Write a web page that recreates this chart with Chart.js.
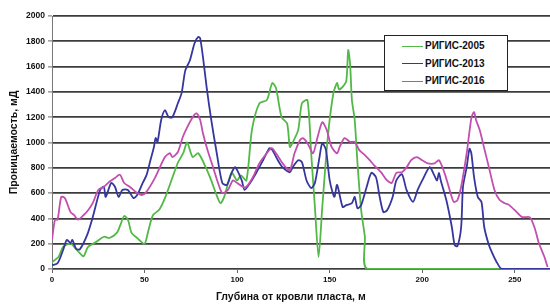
<!DOCTYPE html>
<html>
<head>
<meta charset="utf-8">
<script src="https://cdn.jsdelivr.net/npm/chart.js"></script>
<style>
  html, body { margin: 0; padding: 0; background: #fff; }
  #wrap { position: relative; width: 550px; height: 304px; }
  #legend {
    position: absolute; left: 384px; top: 35px; width: 122px; height: 54px;
    border: 1.5px solid #222; background: #fff;
    font: bold 10px "Liberation Sans", Arial, sans-serif; color: #111;
  }
  #legend .row { position: absolute; left: 17px; height: 12px; line-height: 12px; white-space: nowrap; }
  #legend .sw { display: inline-block; width: 21px; height: 0; border-top: 1.5px solid; vertical-align: middle; margin-right: 2px; }
</style>
</head>
<body>
<div id="wrap">
  <canvas id="chart" width="550" height="304"></canvas>
  <div id="legend"></div>
</div>
<script>
// Проницаемость по глубине, три интерпретации РИГИС
const seriesNames = ['РИГИС-2005', 'РИГИС-2013', 'РИГИС-2016'];
const seriesColors = ['#52b947', '#36369e', '#c24fb0'];

const depth2005 = [0, 3.5, 6, 10, 12, 15, 17, 19.5, 24, 28, 31, 35, 37, 39, 41, 43, 46, 50, 52, 54.5, 58, 61, 64, 68, 71, 73, 76, 79, 83, 86, 89, 91, 93, 97, 100, 102, 105, 108, 112, 116, 119, 121, 124, 127, 128.5, 130, 133, 135, 138, 140, 142, 144, 146, 149, 152, 154, 155, 157, 159, 160, 161, 162, 163.5, 165, 167, 169, 170.5, 269];
const perm2005 = [55, 95, 175, 200, 175, 125, 100, 175, 215, 255, 245, 285, 350, 420, 390, 285, 245, 200, 300, 425, 470, 560, 680, 840, 920, 1000, 885, 915, 805, 700, 580, 520, 570, 760, 700, 740, 700, 1100, 1310, 1335, 1470, 1430, 1200, 1150, 965, 1000, 1100, 1310, 1335, 915, 490, 95, 490, 1045, 1390, 1470, 1420, 1440, 1490, 1730, 1625, 1335, 1180, 840, 465, 255, 0, 0];

const depth2013 = [0, 3, 6, 8, 10, 11, 13, 15, 19, 22, 26, 28, 29, 32, 34, 36, 38, 41, 44, 46, 49, 51, 53, 55, 56, 57, 59, 61, 63, 65, 68, 70, 72, 74.5, 77, 79, 80, 81.5, 83.5, 86, 89, 92, 94.5, 97, 99, 102.5, 104, 107, 110.5, 114, 117.5, 119, 122, 124.5, 128.5, 130, 133, 135, 137.5, 140, 142, 144.5, 146, 148, 150, 152.5, 154, 157, 159, 162, 163.5, 165, 167, 170, 172.5, 175, 177, 179, 181, 184, 186, 189, 191.5, 195, 197.5, 200, 204, 206.5, 208, 209, 210, 213, 216, 217.5, 219, 221, 222, 224, 225.5, 226.5, 228, 230, 232, 233.5, 236, 238, 240, 243, 269];
const perm2013 = [30, 45, 150, 230, 205, 230, 160, 155, 270, 410, 625, 650, 570, 680, 650, 570, 625, 625, 560, 585, 680, 740, 850, 960, 1035, 1005, 1180, 1255, 1200, 1200, 1310, 1390, 1570, 1650, 1785, 1835, 1825, 1680, 1440, 1180, 915, 680, 665, 760, 805, 700, 625, 680, 765, 860, 955, 940, 860, 805, 765, 805, 860, 845, 700, 640, 680, 885, 995, 940, 700, 570, 665, 490, 505, 520, 570, 480, 505, 650, 760, 725, 570, 450, 465, 570, 700, 750, 625, 530, 625, 700, 805, 740, 700, 760, 700, 545, 330, 190, 180, 330, 650, 805, 950, 915, 725, 570, 530, 330, 190, 120, 60, 0, 0];

const depth2016 = [0, 1.6, 3, 5, 7, 10, 12, 14, 17, 19.5, 22, 25, 28, 31, 34, 36.7, 39, 42, 46, 48.5, 51, 55.6, 61, 63.7, 65, 68, 70.7, 73, 76, 78, 80, 81.5, 84, 87, 89.7, 92, 95, 97.7, 100, 103, 105, 108.5, 112, 116, 118.7, 121, 124.6, 128.4, 131, 134, 135.5, 138, 141, 143.5, 146, 148.4, 151, 154, 155.4, 158, 161, 163.5, 166, 169, 171.6, 174, 178, 181, 183.5, 186, 189, 191.6, 194, 197, 200, 203, 206.7, 209, 212, 214.8, 217, 219, 221, 224, 226.6, 228, 229, 231, 233.7, 236, 239, 241.8, 244.5, 247, 251, 254, 258, 260.6, 263, 266, 267.7];
const perm2016 = [230, 390, 390, 570, 560, 450, 425, 390, 425, 465, 520, 625, 650, 690, 720, 745, 680, 650, 600, 585, 610, 720, 885, 915, 885, 925, 1045, 1120, 1200, 1230, 1180, 1075, 940, 805, 680, 600, 625, 700, 680, 650, 650, 725, 835, 915, 955, 915, 835, 780, 915, 1020, 1035, 995, 915, 1045, 1160, 1100, 965, 915, 965, 1035, 1005, 1005, 940, 900, 860, 820, 760, 700, 680, 760, 765, 805, 860, 885, 860, 835, 835, 860, 760, 625, 530, 545, 650, 915, 1200, 1240, 1180, 1100, 940, 805, 625, 545, 520, 505, 450, 410, 410, 330, 205, 95, 15];

const xTicks = [0, 50, 100, 150, 200, 250];

const depths = [depth2005, depth2013, depth2016];
const perms = [perm2005, perm2013, perm2016];

const font = '"Liberation Sans", Arial, sans-serif';

const datasets = seriesNames.map((name, i) => ({
  label: name,
  data: depths[i].map((x, k) => ({ x: x, y: perms[i][k] })),
  borderColor: seriesColors[i],
  borderWidth: 1.8,
  pointRadius: 0,
  tension: 0.25,
  fill: false,
  order: 3 - i
}));

new Chart(document.getElementById('chart'), {
  type: 'line',
  data: { datasets: datasets },
  options: {
    responsive: false,
    animation: false,
    layout: { padding: { top: 16, right: 0, left: 0, bottom: 0 } },
    plugins: { legend: { display: false }, tooltip: { enabled: false } },
    scales: {
      x: {
        type: 'linear',
        min: 0,
        max: 269,
        afterBuildTicks: (scale) => {
          scale.ticks = xTicks.map(v => ({ value: v }));
        },
        afterFit: (scale) => { scale.height = 35; },
        grid: { drawOnChartArea: false, drawTicks: true, tickLength: 4, color: '#666' },
        border: { color: '#777', width: 1 },
        ticks: { color: '#111', font: { family: font, size: 8, weight: 'bold' }, padding: 2, maxRotation: 0, callback: v => String(v) },
        title: {
          display: true,
          text: 'Глубина от кровли пласта, м\u00a0\u00a0\u00a0\u00a0\u00a0\u00a0\u00a0',
          color: '#111',
          font: { family: font, size: 10.5, weight: 'bold' },
          padding: { top: 0, bottom: 1 }
        }
      },
      y: {
        min: 0,
        max: 2000,
        afterFit: (scale) => { scale.width = 52; },
        grid: { color: '#3c3c3c', lineWidth: 1.8, drawTicks: true, tickLength: 4, tickColor: '#666', tickWidth: 1 },
        border: { color: '#777', width: 1 },
        ticks: { stepSize: 200, color: '#111', font: { family: font, size: 8.5, weight: 'bold' }, padding: 3, callback: v => String(v) },
        title: {
          display: true,
          text: 'Проницаемость, мД',
          color: '#111',
          font: { family: font, size: 10.5, weight: 'bold' },
          padding: { top: 8, bottom: 0 }
        }
      }
    }
  }
});

// легенда в рамке, как в исходной диаграмме
const legend = document.getElementById('legend');
seriesNames.forEach((name, i) => {
  const row = document.createElement('div');
  row.className = 'row';
  row.style.top = (4 + i * 17.5) + 'px';
  row.innerHTML = '<span class="sw" style="border-color:' + seriesColors[i] + '"></span>' + name;
  legend.appendChild(row);
});
</script>
</body>
</html>
